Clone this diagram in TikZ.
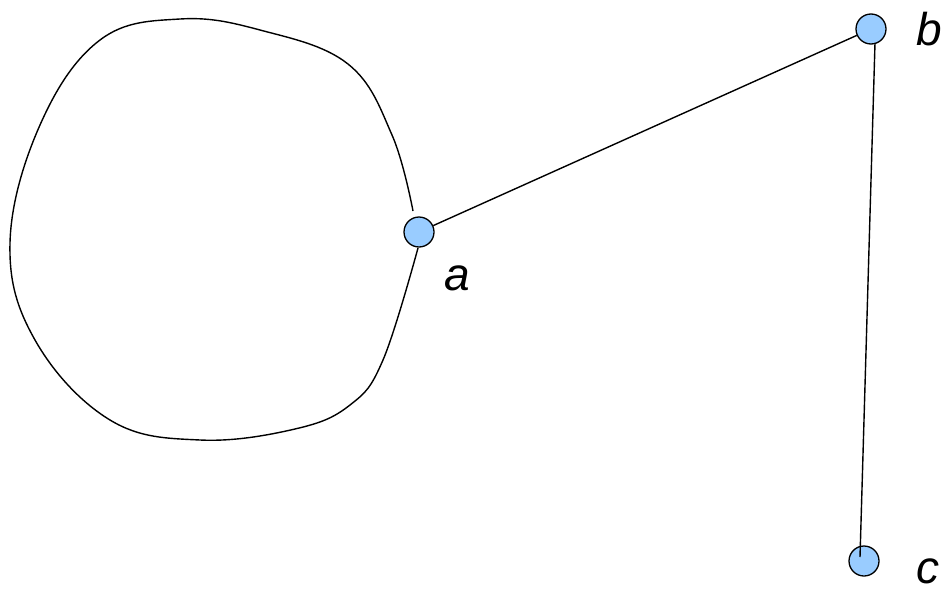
\documentclass[tikz,border=0pt]{standalone}
\usepackage{fontspec}
\setmainfont{Liberation Sans}
\usetikzlibrary{calc}
\definecolor{vfill}{HTML}{99CCFF}
\begin{document}
\begin{tikzpicture}[x=1pt,y=-1pt,
  vertex/.style={circle,draw=black,fill=vfill,line width=1.3pt,minimum size=30pt,inner sep=0pt},
  edge/.style={line width=1.4pt},
  lbl/.style={anchor=base west,inner sep=0pt,font=\fontsize{46}{50}\selectfont\itshape}]
\useasboundingbox (0,0) rectangle (945,589);
\draw[edge] plot[smooth,tension=0.65] coordinates {(413,211) (392,135) (348,64) (260,30) (180,19) (100,40) (40,125) (10,243) (35,340) (110,420) (200,440) (295,429) (350,405) (383,360) (418,248)};
\node[vertex] (a) at (419,232) {};
\node[vertex] (b) at (871,29) {};
\node[vertex] (c) at (864,561) {};
\draw[edge] (a) -- (b);
\draw[edge] ($(b.center)+(4,14)$) -- ($(c.center)+(-4,-4)$);
\node[lbl] (la) at (444,290) {a};
\node[lbl] (lb) at (916,45) {b};
\node[lbl] (lc) at (916,583) {c};
\end{tikzpicture}
\end{document}
